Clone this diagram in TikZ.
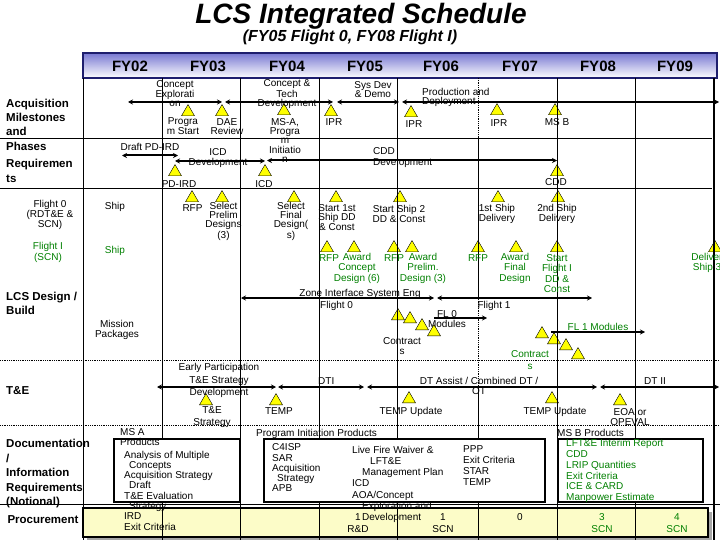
\documentclass[tikz,border=0pt]{standalone}
\usepackage{fontspec}
\setmainfont{Liberation Sans}
\usetikzlibrary{arrows.meta,shapes.geometric}
\definecolor{flgreen}{RGB}{0,128,0}
\definecolor{msyellow}{RGB}{255,255,0}
\definecolor{procyellow}{RGB}{252,252,200}
\definecolor{hdrblue}{RGB}{120,120,210}
\definecolor{hdrdark}{RGB}{30,30,110}

\begin{document}
\begin{tikzpicture}[x=1pt, y=-1pt, >={Stealth[length=5pt,width=5pt]},
    txt/.style={font=\fontsize{10}{#1}\selectfont, align=center, inner sep=0pt},
    txt/.default=10,
    grn/.style={txt=#1, text=flgreen},
    grn/.default=10,
    rowlbl/.style={font=\fontsize{11.5}{#1}\selectfont\bfseries, align=left, inner sep=0pt, anchor=west},
    rowlbl/.default=14,
    fyhead/.style={font=\fontsize{15}{15}\selectfont\bfseries, inner sep=0pt, anchor=base},
    mstone/.style={regular polygon, regular polygon sides=3, draw=black, fill=msyellow,
        minimum size=15pt, inner sep=0pt, anchor=south},
    phasebar/.style={line width=2pt},
    grid/.style={line width=0.8pt},
    listbox/.style={draw=black, line width=2pt, fill=white}]
    \useasboundingbox (0,0) rectangle (720,540);

    % title and year header
    \node[font=\fontsize{28}{28}\selectfont\bfseries\itshape, anchor=base] (title) at (361,24) {LCS Integrated Schedule};
    \node[font=\fontsize{16}{16}\selectfont\bfseries\itshape, anchor=base] (subtitle) at (350,42) {(FY05 Flight 0, FY08 Flight I)};
    \shade[top color=hdrblue, bottom color=white] (83,53) rectangle (717,78);
    \draw[hdrdark, line width=1.5pt] (83,53) rectangle (717,78);
    \foreach \x/\yr in {130/02,208/03,287/04,365/05,441/06,520/07,598/08,675/09}
        \node[fyhead] (fy\yr) at (\x,71.5) {FY\yr};

    % procurement strip, under the grid
    \fill[gray!70] (87,512) rectangle (712,541);
    \fill[procyellow] (83,508) rectangle (708,537);

    % milestones
    \foreach \x/\y [count=\i] in {188/116,222/116,284/115,331/116,411/117,497/115,555/115,
        175/176,265/176,557/176,
        192/202,222/202,294/202,336/202,400/202,498/202,558/202,
        327/252,354/252,394/252,412/252,478/252,516/252,557/252,715/252,
        398/320,410/323,422/330,434/336,
        542/338,554/344,566/350,578/359,
        206/405,276/405,409/403,552/403,620/405}
        \node[mstone] (t\i) at (\x,\y) {};

    % grid
    \foreach \x in {83,162,240,319,397,557,635}
        \draw[grid] (\x,78) -- (\x,540);
    \draw[line width=1.2pt] (714,78) -- (714,540);
    \draw[grid, densely dotted] (478,78) -- (478,140);
    \draw[grid] (478,140) -- (478,297);
    \draw[grid, densely dotted] (478,297) -- (478,386);
    \draw[grid] (478,386) -- (478,540);
    \draw[grid] (0,138) -- (712,138);
    \draw[grid] (0,188) -- (712,188);
    \draw[grid, densely dotted] (0,360) -- (720,360);
    \draw[grid, densely dotted] (0,425) -- (720,425);
    \draw[grid] (0,504) -- (720,504);

    \draw[listbox] (114,439) rectangle (240,502);
    \draw[listbox] (264,439) rectangle (545,502);
    \draw[listbox] (558,439) rectangle (703,502);
    \draw[line width=2pt] (83,508) rectangle (708,537);

    % row labels
    \node[rowlbl=14.3] (acqlbl) at (6,124.5) {Acquisition\\Milestones\\and\\Phases};
    \node[rowlbl=15] (reqlbl) at (6,170.5) {Requiremen\\ts};
    \node[txt=9] (fl0lbl) at (50,215) {Flight 0\\(RDT\&E \&\\SCN)};
    \node[grn=9] (fl1lbl) at (48,252.5) {Flight I\\(SCN)};
    \node[txt] (ship0) at (115,207) {Ship};
    \node[grn] (ship1) at (115,251) {Ship};
    \node[rowlbl=14] (lcslbl) at (6,303) {LCS Design /\\Build};
    \node[txt=10] (mpkg) at (117,330) {Mission\\Packages};
    \node[rowlbl] (telbl) at (6,391) {T\&E};
    \node[rowlbl=14.5] (doclbl) at (6,474) {Documentation\\/\\Information\\Requirements\\(Notional)};
    \node[font=\fontsize{11.5}{14}\selectfont\bfseries, inner sep=0pt] (proclbl) at (43,520) {Procurement};

    % acquisition phases
    \node[txt=8.5] (cephase) at (175,93.5) {Concept\\Explorati\\on};
    \node[txt=9] (ctdphase) at (287,94) {Concept \&\\Tech\\Development};
    \node[txt=9] (sddphase) at (373,89.5) {Sys Dev\\\& Demo};
    \node[txt=9, align=left, anchor=west] (pdphase) at (422,97.5) {Production and\\Deployment};
    \draw[phasebar, <->] (128,102) -- (222,102);
    \draw[phasebar, <->] (225,102) -- (333,102);
    \draw[phasebar, <->] (337,102) -- (399,102);
    \draw[phasebar, <->] (402,102) -- (719,102);
    \node[txt=9] (progstart) at (183,126.5) {Progra\\m Start};
    \node[txt=9] (dae) at (227,126.5) {DAE\\Review};
    \node[txt=9.25] (msa) at (285,140.5) {MS-A,\\Progra\\m\\Initiatio\\n};
    \node[txt] (ipr1) at (334,122) {IPR};
    \node[txt] (ipr2) at (414,124) {IPR};
    \node[txt] (ipr3) at (499,123) {IPR};
    \node[txt] (msb) at (557,122) {MS B};

    % requirements
    \node[txt] (pdird) at (150,147) {Draft PD-IRD};
    \draw[phasebar, <->] (122,155.5) -- (178,155.5);
    \node[txt=10.5] (icddev) at (218,158) {ICD\\Development};
    \draw[phasebar, <->] (175,161) -- (265,161);
    \node[txt=11, align=left, anchor=west] (cdddev) at (373,157.5) {CDD\\Development};
    \draw[phasebar, <->] (267,160.5) -- (557,160.5);
    \node[txt] (pdirdms) at (179,184) {PD-IRD};
    \node[txt] (icdms) at (264,184) {ICD};
    \node[txt] (cddms) at (556,182) {CDD};

    % flight 0 ship
    \node[txt] (rfp0) at (192.5,208) {RFP};
    \node[txt=9] (selprelim) at (223.5,221.5) {Select\\Prelim\\Designs\\(3)};
    \node[txt=9] (selfinal) at (291,221.5) {Select\\Final\\Design(\\s)};
    \node[txt=9.5] (start1) at (337,217.5) {Start 1st\\Ship DD\\\& Const};
    \node[txt=10] (start2) at (399,214) {Start Ship 2\\DD \& Const};
    \node[txt=10] (deliv1) at (497,214) {1st Ship\\Delivery};
    \node[txt=10] (deliv2) at (557,214) {2nd Ship\\Delivery};

    % flight I ship
    \node[grn] (rfp1a) at (329,258) {RFP};
    \node[grn=10.5] (awconc) at (357,268) {Award\\Concept\\Design (6)};
    \node[grn] (rfp1b) at (394,258) {RFP};
    \node[grn=10.5] (awprelim) at (423,268) {Award\\Prelim.\\Design (3)};
    \node[grn] (rfp1c) at (478,258) {RFP};
    \node[grn=10.5] (awfinal) at (515,268) {Award\\Final\\Design};
    \node[grn=10.33] (startfl1) at (557,273.5) {Start\\Flight I\\DD \&\\Const};
    \node[grn=10] (deliv3) at (707,263) {Deliver\\Ship 3};

    % system engineering and mission packages
    \node[txt] (zone) at (360,294) {Zone Interface System Eng};
    \draw[phasebar, <->] (241,298) -- (434,298);
    \draw[phasebar, <->] (437,298) -- (592,298);
    \node[txt, anchor=west] (flt0) at (320,306) {Flight 0};
    \node[txt] (flt1) at (494,306) {Flight 1};
    \node[txt=10.5] (fl0mod) at (447,319) {FL 0\\Modules};
    \draw[phasebar, ->] (434,318) -- (487,318);
    \node[txt=10] (contr0) at (402,346) {Contract\\s};
    \node[grn] (fl1mod) at (598,327) {FL 1 Modules};
    \draw[phasebar, ->] (551,332) -- (645,332);
    \node[grn=12] (contr1) at (530,360) {Contract\\s};

    % test and evaluation
    \node[txt=12.5] (early) at (219,380.5) {Early Participation\\T\&E Strategy\\Development};
    \draw[phasebar, <->] (157,387) -- (276,387);
    \draw[phasebar, <->] (278,387) -- (364,387);
    \draw[phasebar, <->] (367,387) -- (597,387);
    \draw[phasebar, <->] (600,387) -- (719,387);
    \node[txt, anchor=west] (dti) at (318,381) {DTI};
    \node[txt=10] (dtassist) at (479,386) {DT Assist / Combined DT /\\OT};
    \node[txt] (dtii) at (655,381) {DT II};
    \node[txt=12] (testrat) at (212,417) {T\&E\\Strategy};
    \node[txt] (temp) at (279,411) {TEMP};
    \node[txt] (tempup1) at (411,412) {TEMP Update};
    \node[txt] (tempup2) at (555,412) {TEMP Update};
    \node[txt=10] (eoa) at (630,417) {EOA or\\OPEVAL};

    % documentation
    \node[txt=10, align=left, anchor=west] (msaprod) at (120,437.5) {MS A\\Products};
    \node[txt=10.3, align=left, anchor=north west] (msalist) at (124,450.6)
        {Analysis of Multiple\\\hspace*{5pt}Concepts\\Acquisition Strategy\\\hspace*{5pt}Draft\\T\&E Evaluation\\\hspace*{5pt}Strategy\\IRD\\Exit Criteria};
    \node[txt, anchor=west] (piprod) at (256,434) {Program Initiation Products};
    \node[txt=10.3, align=left, anchor=north west] (pilist1) at (272,443.6)
        {C4ISP\\SAR\\Acquisition\\\hspace*{5pt}Strategy\\APB};
    \node[txt=11.3, align=left, anchor=north west] (pilist2) at (352,445.6)
        {Live Fire Waiver \&\\\hspace*{18pt}LFT\&E\\\hspace*{10pt}Management Plan\\ICD\\AOA/Concept\\\hspace*{10pt}Exploration and\\\hspace*{10pt}Development};
    \node[txt=11, align=left, anchor=north west] (pilist3) at (463,445.6)
        {PPP\\Exit Criteria\\STAR\\TEMP};
    \node[txt, anchor=west] (msbprod) at (557,432.5) {MS B Products};
    \node[grn=10.7, align=left, anchor=north west] (msblist) at (566,439.5)
        {LFT\&E Interim Report\\CDD\\LRIP Quantities\\Exit Criteria\\ICE \& CARD\\Manpower Estimate};

    % procurement
    \node[txt=12] (proc05) at (358,523) {1\\R\&D};
    \node[txt=12] (proc06) at (443,523) {1\\SCN};
    \node[txt] (proc07) at (520,517) {0};
    \node[grn=12] (proc08) at (602,523) {3\\SCN};
    \node[grn=12] (proc09) at (677,523) {4\\SCN};
\end{tikzpicture}
\end{document}
